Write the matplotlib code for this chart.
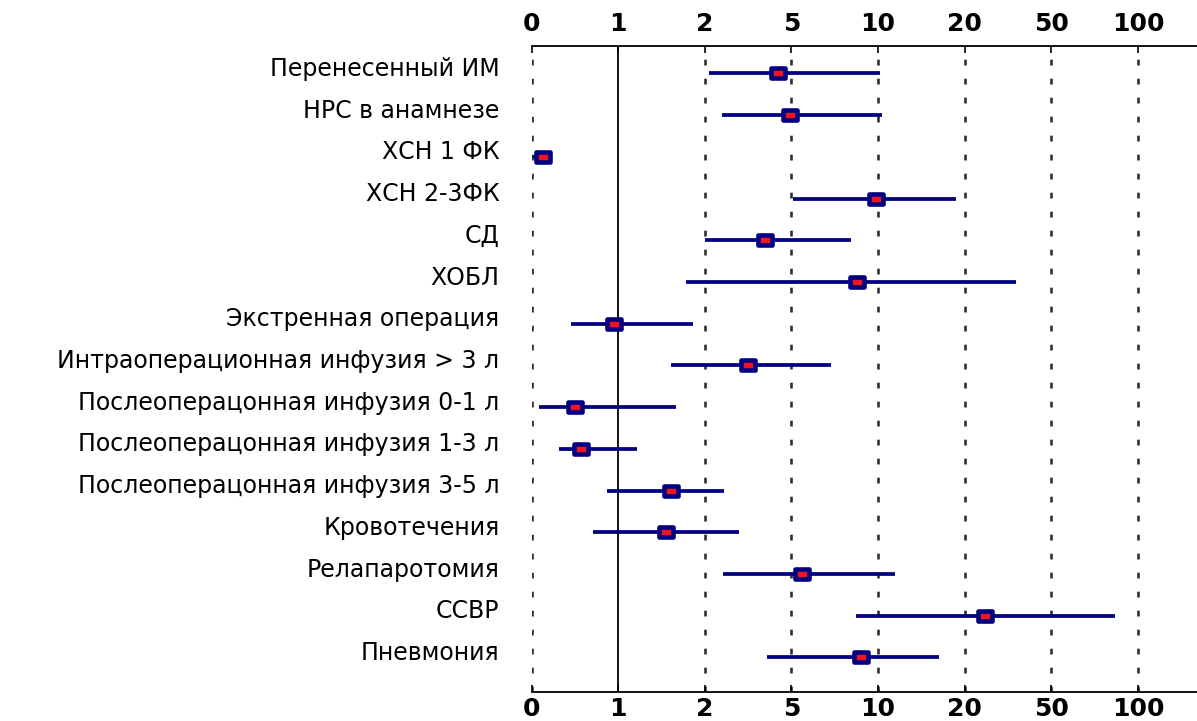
import numpy as np
import matplotlib
matplotlib.use("Agg")
import matplotlib.pyplot as plt
from matplotlib.transforms import ScaledTranslation
from matplotlib.path import Path
from matplotlib.markers import MarkerStyle

# ---------------- data ----------------
categories = [
    "Перенесенный ИМ",
    "НРС в анамнезе",
    "ХСН 1 ФК",
    "ХСН 2-3ФК",
    "СД",
    "ХОБЛ",
    "Экстренная операция",
    "Интраоперационная инфузия > 3 л",
    "Послеоперацонная инфузия 0-1 л",
    "Послеоперацонная инфузия 1-3 л",
    "Послеоперацонная инфузия 3-5 л",
    "Кровотечения",
    "Релапаротомия",
    "ССВР",
    "Пневмония",
]
point_est = [4.52, 4.95, 0.13, 9.9, 4.09, 8.76, 0.95, 3.49, 0.50, 0.57, 1.61, 1.55, 5.63, 26.9, 9.03]
ci_low    = [2.14, 2.58, 0.02, 5.07, 2.00, 1.78, 0.46, 1.61, 0.09, 0.32, 0.87, 0.71, 2.64, 8.7, 4.14]
ci_high   = [10.2, 10.4, 0.24, 19.0, 8.43, 37.9, 1.86, 7.28, 1.67, 1.22, 2.67, 3.19, 11.9, 86.8, 17.0]
tick_values = [0, 1, 2, 5, 10, 20, 50, 100]
tick_labels = ["0", "1", "2", "5", "10", "20", "50", "100"]

# ---------------- custom scale (equal spacing between ticks) ----------------
TV = np.array(tick_values, dtype=float)
TP = np.arange(len(TV), dtype=float)

def fwd(x):
    x = np.asarray(x, dtype=float)
    out = np.interp(x, TV, TP)
    slope_hi = (TP[-1] - TP[-2]) / (TV[-1] - TV[-2])
    slope_lo = (TP[1] - TP[0]) / (TV[1] - TV[0])
    out = np.where(x > TV[-1], TP[-1] + (x - TV[-1]) * slope_hi, out)
    out = np.where(x < TV[0], TP[0] + (x - TV[0]) * slope_lo, out)
    return out

def inv(p):
    p = np.asarray(p, dtype=float)
    out = np.interp(p, TP, TV)
    slope_hi = (TV[-1] - TV[-2]) / (TP[-1] - TP[-2])
    slope_lo = (TV[1] - TV[0]) / (TP[1] - TP[0])
    out = np.where(p > TP[-1], TV[-1] + (p - TP[-1]) * slope_hi, out)
    out = np.where(p < TP[0], TV[0] + (p - TP[0]) * slope_lo, out)
    return out

# ---------------- figure ----------------
fig = plt.figure(figsize=(11.97, 7.21), dpi=100)
ax = fig.add_axes([531.5 / 1197, 1 - 691.5 / 721, (1197 - 531.5) / 1197, (691.5 - 46) / 721])
ax.set_xscale("function", functions=(fwd, inv))
ax.set_xlim(0, float(inv(7.68)))

n = len(categories)
ys = np.arange(n)
ax.set_ylim(n - 1 + 0.815, -0.655)

navy = "#000080"
red = "#f0141e"

# reference lines
for v in tick_values:
    if v == 1:
        ax.axvline(v, color="black", lw=1.3, zorder=1)
    else:
        ax.axvline(v, color="#303030", lw=1.9, ls=(0, (2.2, 5.0)), zorder=1)

# CI lines
ax.hlines(ys, ci_low, ci_high, color=navy, lw=2.7, zorder=3)

# markers (rectangular)
rect = Path([(-1, -0.64), (1, -0.64), (1, 0.64), (-1, 0.64), (-1, -0.64)],
            [Path.MOVETO, Path.LINETO, Path.LINETO, Path.LINETO, Path.CLOSEPOLY])
mk = MarkerStyle(rect, joinstyle="miter")
ax.plot(point_est, ys, ls="none", marker=mk, ms=10.2, mfc=red, mec=navy, mew=3.3, zorder=4)

# ticks
ax.set_xticks(tick_values)
ax.set_xticklabels(tick_labels)
ax.xaxis.set_minor_locator(matplotlib.ticker.NullLocator())
ax.tick_params(axis="x", which="major", direction="in", length=5, width=1.2,
               top=True, bottom=True, labeltop=True, labelbottom=True,
               labelsize=18, pad=4, colors="black")
for lbl in ax.get_xticklabels():
    lbl.set_fontweight("bold")
top_shift = ScaledTranslation(0, 3 / 72, fig.dpi_scale_trans)
for t in ax.xaxis.get_major_ticks():
    t.label2.set_transform(t.label2.get_transform() + top_shift)
    t.label2.set_fontweight("bold")

ax.set_yticks(ys)
ax.set_yticklabels(categories, fontsize=17)
ax.tick_params(axis="y", length=0, pad=23)
offset = ScaledTranslation(0, 5 / 72, fig.dpi_scale_trans)
for lbl in ax.get_yticklabels():
    lbl.set_transform(lbl.get_transform() + offset)

for s in ["left", "right"]:
    ax.spines[s].set_visible(False)
for s in ["top", "bottom"]:
    ax.spines[s].set_linewidth(1.3)

fig.savefig("out.png", dpi=100)
